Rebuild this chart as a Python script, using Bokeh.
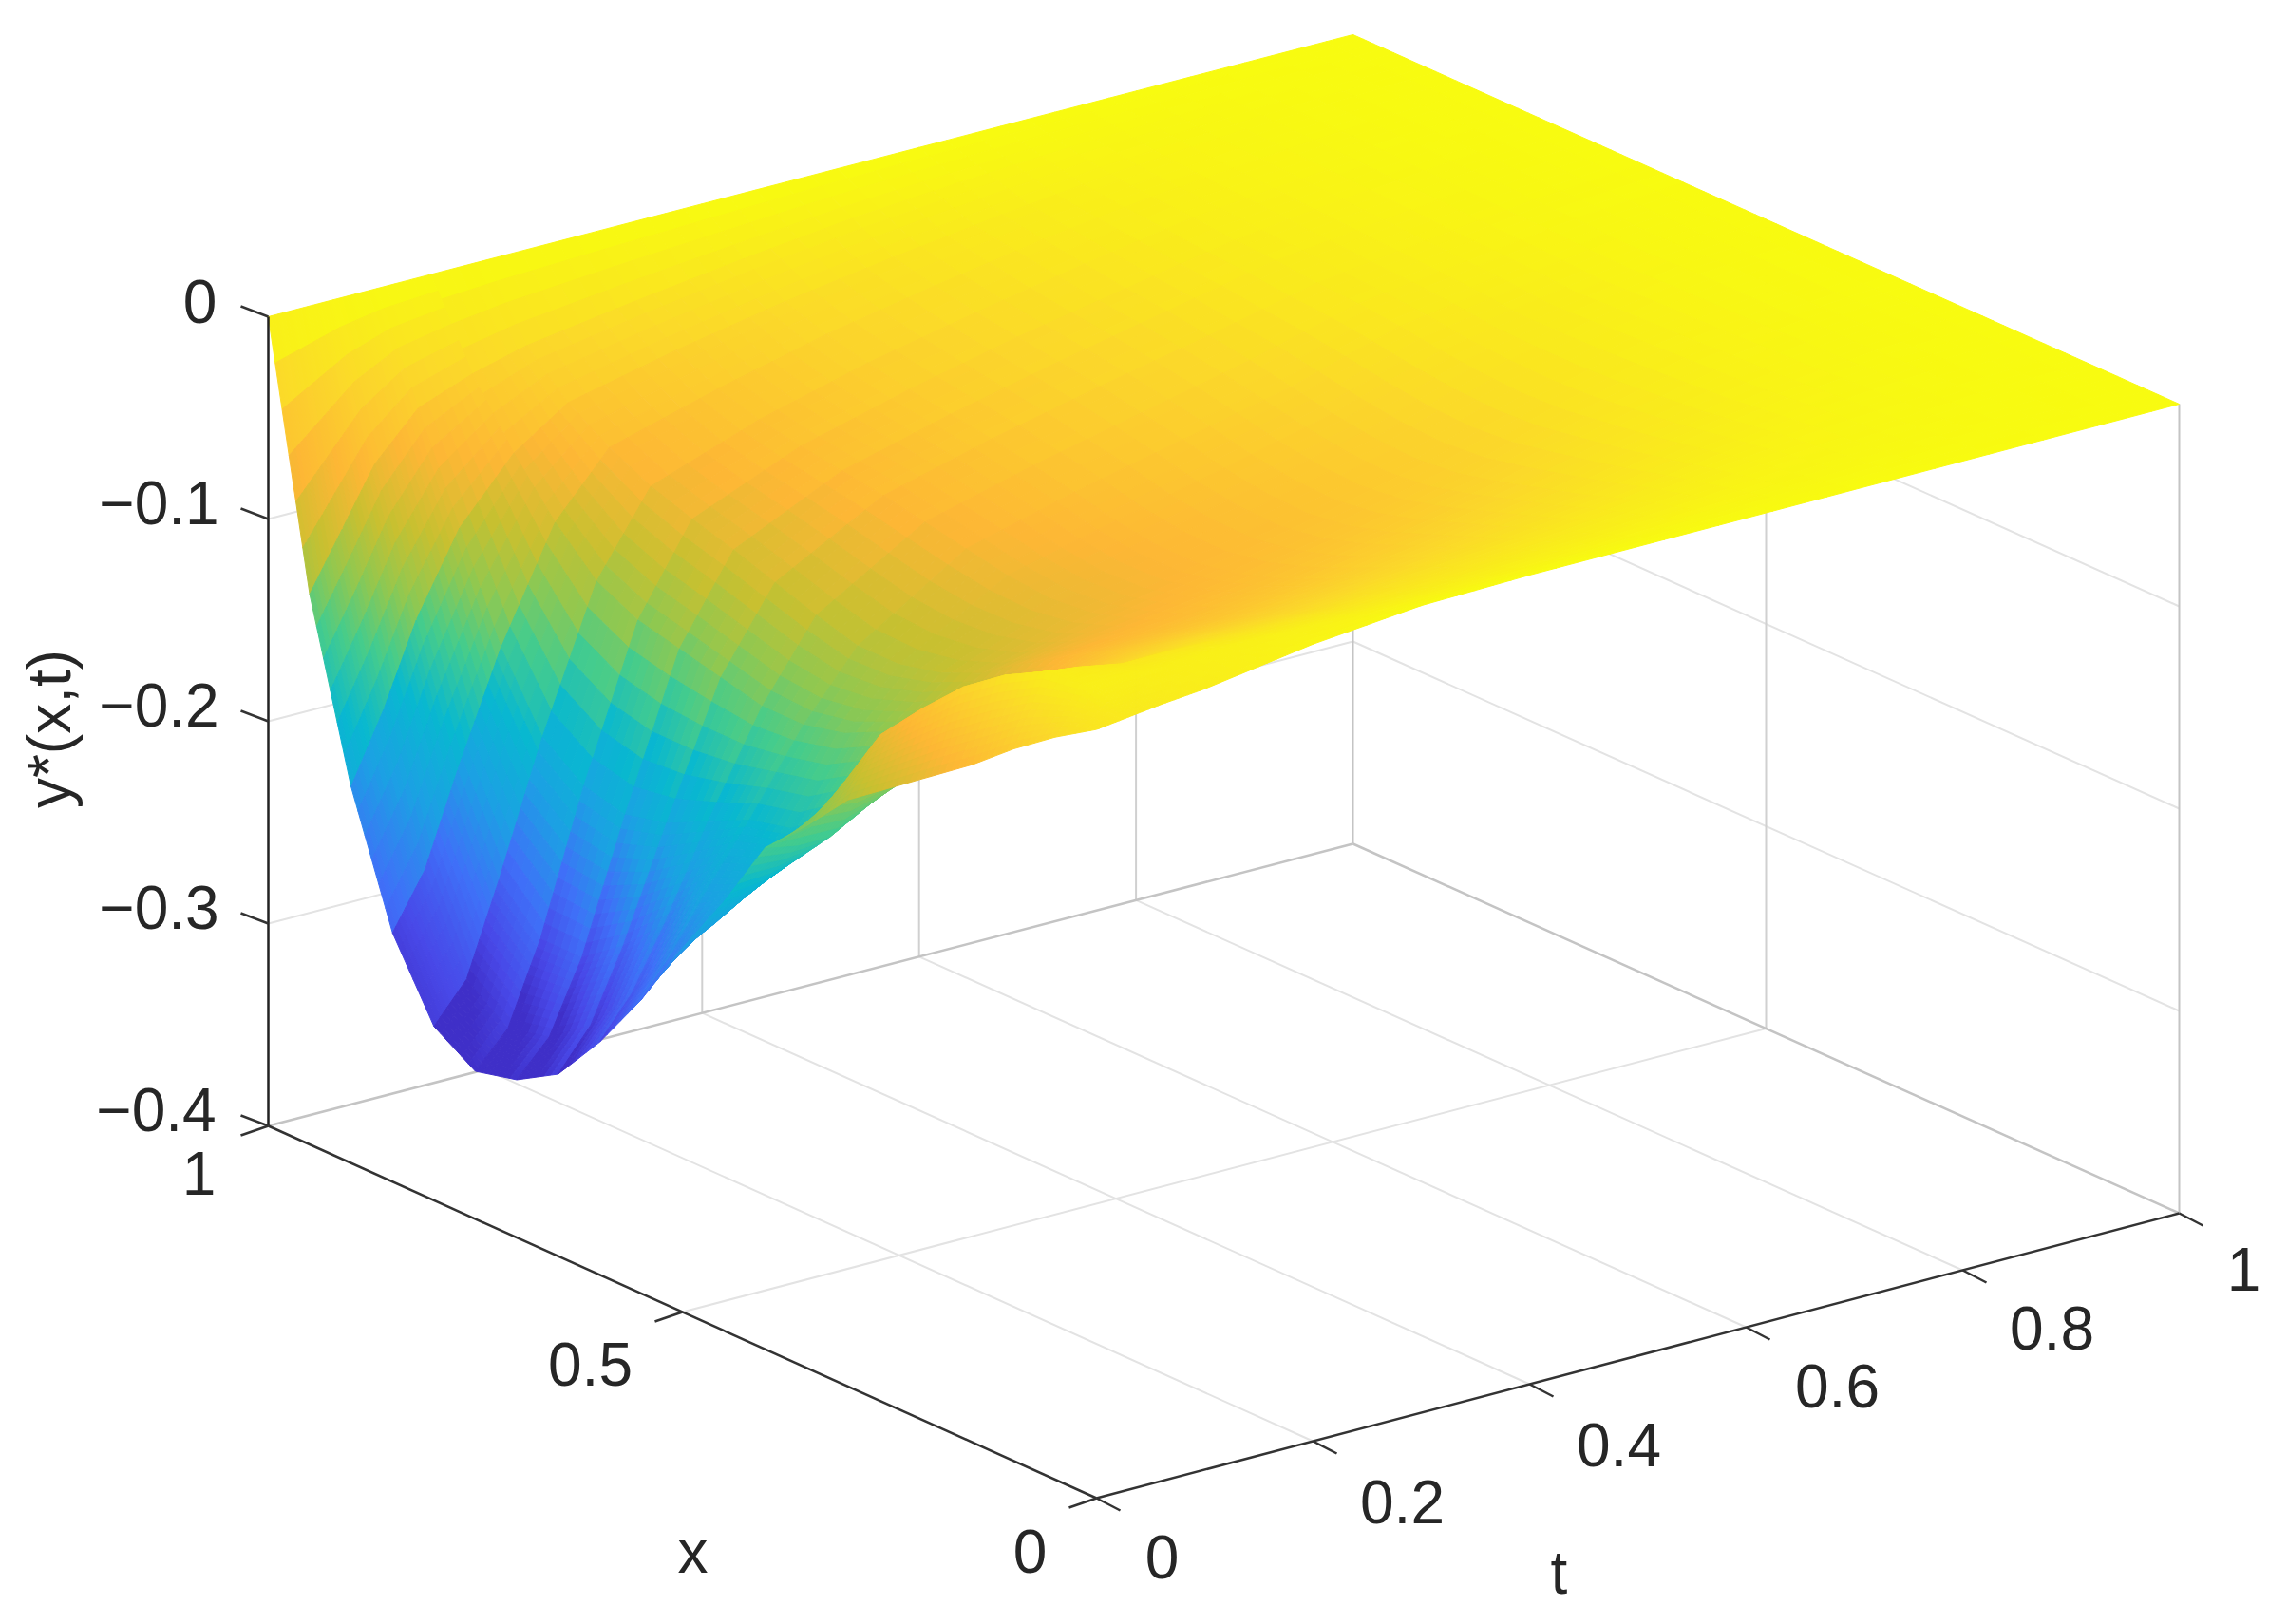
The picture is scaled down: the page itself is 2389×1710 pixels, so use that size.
from bokeh.plotting import figure
from bokeh.models import Range1d
from bokeh.core.properties import value
from bokeh.embed import file_html
from bokeh.resources import INLINE
import math

x_grid = [1.0,0.95,0.9,0.85,0.8,0.75,0.7,0.65,0.6,0.55,0.5,0.45,0.4,0.35,0.3,0.25,0.2,0.15,0.1,0.05,0.0]
t_grid = [0,0.03,0.06,0.1,0.15,0.2,0.3,0.4,0.5,0.6,0.7,0.8,0.9,1.0]
# y*(x,t): one row per x_grid entry, one column per t_grid entry
y_rows = [
 [0,0,0,0,0,0,0,0,0,0,0,0,0,0],
 [-.128,-.10,-.072,-.05,-.04,-.033,-.025,-.018,-.012,-.008,-.005,-.003,-.001,0],
 [-.214,-.18,-.14,-.10,-.07,-.052,-.04,-.03,-.022,-.015,-.009,-.005,-.002,0],
 [-.277,-.25,-.205,-.15,-.095,-.065,-.05,-.037,-.027,-.018,-.011,-.006,-.002,0],
 [-.314,-.295,-.25,-.185,-.115,-.075,-.056,-.042,-.031,-.021,-.012,-.007,-.002,0],
 [-.327,-.31,-.27,-.20,-.125,-.082,-.06,-.046,-.034,-.024,-.014,-.008,-.003,0],
 [-.322,-.305,-.27,-.205,-.13,-.088,-.063,-.049,-.037,-.026,-.015,-.009,-.003,0],
 [-.31,-.29,-.255,-.2,-.135,-.095,-.066,-.052,-.04,-.029,-.017,-.01,-.004,0],
 [-.285,-.265,-.235,-.19,-.14,-.102,-.07,-.056,-.044,-.032,-.018,-.011,-.004,0],
 [-.255,-.235,-.21,-.18,-.14,-.108,-.074,-.06,-.048,-.036,-.02,-.012,-.005,0],
 [-.22,-.212,-.2,-.175,-.135,-.108,-.078,-.065,-.053,-.04,-.023,-.014,-.005,0],
 [-.188,-.185,-.178,-.16,-.125,-.103,-.08,-.068,-.056,-.043,-.025,-.013,-.004,0],
 [-.152,-.155,-.155,-.143,-.112,-.094,-.078,-.068,-.057,-.044,-.026,-.012,-.004,0],
 [-.132,-.118,-.12,-.12,-.098,-.08,-.072,-.064,-.054,-.042,-.025,-.011,-.004,0],
 [-.11,-.082,-.09,-.095,-.08,-.068,-.064,-.057,-.048,-.037,-.022,-.01,-.003,0],
 [-.095,-.06,-.068,-.07,-.062,-.056,-.054,-.048,-.04,-.031,-.019,-.009,-.003,0],
 [-.08,-.04,-.048,-.052,-.047,-.044,-.043,-.038,-.032,-.025,-.015,-.007,-.002,0],
 [-.065,-.025,-.03,-.036,-.034,-.032,-.032,-.028,-.024,-.018,-.011,-.005,-.002,0],
 [-.048,-.014,-.016,-.02,-.02,-.021,-.021,-.019,-.016,-.012,-.007,-.004,-.001,0],
 [-.033,-.012,-.012,-.012,-.011,-.011,-.011,-.01,-.008,-.006,-.004,-.002,-.001,0],
 [-.02,-.018,-.016,-.014,-.01,-.006,-.001,0,0,0,0,0,0,0],
]
x_ticks = [0,0.5,1]
t_ticks = [0,0.2,0.4,0.6,0.8,1]
y_ticks = [0,-0.1,-0.2,-0.3,-0.4]
x_tick_labels = ["0","0.5","1"]
t_tick_labels = ["0","0.2","0.4","0.6","0.8","1"]
y_tick_labels = ["0","\u22120.1","\u22120.2","\u22120.3","\u22120.4"]

# colormap stops: data value -> colour
cmap_vals = [-.31,-.285,-.25,-.215,-.18,-.15,-.125,-.10,-.07,-.035,0]
cmap_cols = ["#3F2FC8","#4848E8","#3F70F8","#1CA0E4","#08B8D0","#45CC8C","#90C850","#C8C030","#FDB735","#FBD82A","#F8FB10"]

W, H = 2381, 1702
P00,P10,P01,P11 = (1154,1577),(282,1185),(2294,1277),(1424,888)
ZH = 2130.0

def proj(x,t,z=-0.4):
    X = (1-x)*(1-t)*P00[0]+x*(1-t)*P10[0]+(1-x)*t*P01[0]+x*t*P11[0]
    Y = (1-x)*(1-t)*P00[1]+x*(1-t)*P10[1]+(1-x)*t*P01[1]+x*t*P11[1]
    return X, Y-(z+0.4)*ZH

def rgb(h): return tuple(int(h[i:i+2],16) for i in (1,3,5))
def colour(v):
    if v<=cmap_vals[0]: return cmap_cols[0]
    for a,b,ca,cb in zip(cmap_vals,cmap_vals[1:],cmap_cols,cmap_cols[1:]):
        if v<=b:
            f=(v-a)/(b-a); A,B=rgb(ca),rgb(cb)
            return "#%02x%02x%02x"%tuple(round(A[k]+(B[k]-A[k])*f) for k in range(3))
    return cmap_cols[-1]

p = figure(width=W,height=H,output_backend="svg",toolbar_location=None,
           x_range=Range1d(0,W),y_range=Range1d(H,0),min_border=0,outline_line_color=None)
p.axis.visible=False; p.grid.visible=False

GRID="#E3E3E3"; BOX="#C4C4C4"; AX="#333333"
def seg(a,b,c,w):
    p.line([a[0],b[0]],[a[1],b[1]],line_color=c,line_width=w)
# back-wall grid
for z in y_ticks[1:4]:
    seg(proj(1,0,z),proj(1,1,z),GRID,2); seg(proj(1,1,z),proj(0,1,z),GRID,2)
for t in t_ticks[1:5]:
    seg(proj(0,t),proj(1,t),GRID,2); seg(proj(1,t),proj(1,t,0),"#D0D0D0",2)
seg(proj(.5,0),proj(.5,1),GRID,2); seg(proj(.5,1),proj(.5,1,0),"#D0D0D0",2)
seg(proj(1,0),proj(1,1),BOX,2.5); seg(proj(1,1),proj(0,1),BOX,2.5)
seg(proj(1,1),proj(1,1,0),BOX,2); seg(proj(0,1),proj(0,1,0),BOX,2)

# surface, back to front; every table cell is shaded in small steps.
# STRIPE gives each x-strip the slight colour step the reference shows at its facets.
STRIPE = 0.12
xs,ys,cs=[],[],[]
nx,nt=len(x_grid),len(t_grid)
def vert(i,j,u,v):
    z=(1-u)*(1-v)*y_rows[i][j]+u*(1-v)*y_rows[i+1][j]+(1-u)*v*y_rows[i][j+1]+u*v*y_rows[i+1][j+1]
    x=x_grid[i]+(x_grid[i+1]-x_grid[i])*u
    t=t_grid[j]+(t_grid[j+1]-t_grid[j])*v
    return proj(x,t,z),z
for j in range(nt-2,-1,-1):
    na = 6 if j<=3 else 4
    nb = 10 if j<=2 else (6 if j<=6 else 4)
    for i in range(nx-1):
        s = STRIPE*max(0.0,min(1.0,(x_grid[i]-0.5)/0.2))
        for b in range(nb-1,-1,-1):
            for a in range(na):
                q=[vert(i,j,a/na,b/nb),vert(i,j,(a+1)/na,b/nb),vert(i,j,(a+1)/na,(b+1)/nb),vert(i,j,a/na,(b+1)/nb)]
                xs.append([k[0][0] for k in q]); ys.append([k[0][1] for k in q])
                u=(a+.5)/na
                cs.append(colour(sum(k[1] for k in q)/4*(1+s*(0.5-u))))
p.patches(xs,ys,fill_color=cs,line_color=cs,line_width=1)

# axes
seg(proj(1,0,0),proj(1,0),"#222222",2.5)
seg(proj(1,0),proj(0,0),AX,2.5); seg(proj(0,0),proj(0,1),AX,2.5)
for z in y_ticks:
    a=proj(1,0,z); seg(a,(a[0]-29,a[1]-11),AX,2.5)
for x in x_ticks:
    a=proj(x,0); seg(a,(a[0]-29,a[1]+10),AX,2.5)
for t in t_ticks:
    a=proj(0,t); seg(a,(a[0]+25,a[1]+13),AX,2.5)

FONT=value("Liberation Sans"); SIZE="64px"; TC="#262626"
def label(s,pos,angle=0):
    p.text([pos[0]],[pos[1]],text=[s],text_font=FONT,text_font_size=SIZE,text_color=TC,
           text_align="center",text_baseline="middle",angle=angle)
y_off = [(-72,-16),(-115,-17),(-115,-17),(-115,-17),(-118,-17)]
x_off = [(-70,56),(-97,55),(-73,50)]
t_off = [(69,62),(94,64),(94,64),(96,62),(94,61),(68,59)]
for z,s,o in zip(y_ticks,y_tick_labels,y_off):
    a=proj(1,0,z); label(s,(a[0]+o[0],a[1]+o[1]))
for x,s,o in zip(x_ticks,x_tick_labels,x_off):
    a=proj(x,0); label(s,(a[0]+o[0],a[1]+o[1]))
for t,s,o in zip(t_ticks,t_tick_labels,t_off):
    a=proj(0,t); label(s,(a[0]+o[0],a[1]+o[1]))
a=proj(.5,0); label("x",(a[0]+11,a[1]+252))
a=proj(0,.2); label("t",(a[0]+259,a[1]+138))
label("y*(x,t)",(51,767),angle=math.pi/2)

open("out.html","w").write(file_html(p,INLINE))
